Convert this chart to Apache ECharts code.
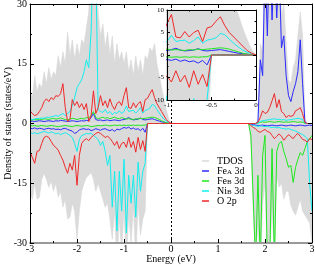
<!DOCTYPE html>
<html><head><meta charset="utf-8">
<script src="https://cdn.jsdelivr.net/npm/echarts@6/dist/echarts.min.js"></script>
<style>html,body{margin:0;padding:0;background:#fff}#c{width:315px;height:266px}</style>
</head><body><div id="c"></div>
<script>
// Energy grid (eV): valence band then conduction band
const ENERGY = [
-3.00,-2.95,-2.90,-2.85,-2.80,-2.75,-2.70,-2.65,-2.60,-2.55,
-2.50,-2.45,-2.40,-2.35,-2.30,-2.25,-2.20,-2.15,-2.10,-2.05,
-2.00,-1.95,-1.90,-1.85,-1.80,-1.75,-1.70,-1.65,-1.60,-1.55,
-1.50,-1.45,-1.40,-1.35,-1.30,-1.25,-1.20,-1.15,-1.10,-1.05,
-1.00,-0.95,-0.90,-0.85,-0.80,-0.75,-0.70,-0.65,-0.60,-0.55,
-0.50,-0.45,-0.40,-0.35,-0.30,-0.25,-0.20,-0.15,-0.10,-0.05,
0.00,
1.60,1.65,1.70,1.75,1.80,1.85,1.90,1.95,2.00,2.05,
2.10,2.15,2.20,2.25,2.30,2.35,2.40,2.45,2.50,2.55,
2.60,2.65,2.70,2.75,2.80,2.85,2.90,2.95,3.00];

const TDOS_UP = [
8,6.5,12,8,10,9,13,10,14,11,
13,12,17,14,18,15,23,17,21,16,
20,17,21,20,24,28,45,45,42,28,
22,25,19,23,17,22,15,20,16,18,
15,18,13,16,12,17,13,16,12,17,
16,19,18,20,15,12,9,6,3.5,1.2,
0,
0,0,0,0,0,1,20,18,45,30,
45,36,45,34,45,27,30,20,11,10,
14,16,22,28,22,1,0,0,0];
const TDOS_DN = [
-17.5,-19,-15,-19,-18.5,-14,-12.5,-14,-16,-14.5,
-17,-15,-18.5,-17,-21,-19,-24,-23.5,-20,-22,
-29,-22,-17,-15,-13.5,-13,-12.3,-14,-17,-15,
-17,-19,-21,-20,-24,-29,-22,-35,-24,-32,
-22,-35,-23,-30,-21,-34,-20,-28,-24,-22,
0,0,0,0,0,0,0,0,0,0,
0,
0,0,-5,-22,-35,-25,-35,-20,-15,-35,
-35,-20,-35,-13,-16,-15,-19,-17,-17,-20.5,
-22,-23,-21,-19,-22,-23,-24,-25,-30];

const FEA_UP = [
0.5,0.6,0.5,0.6,0.7,0.6,0.5,0.6,0.7,0.6,
0.5,0.7,0.6,0.8,0.7,0.6,0.5,0.6,0.7,0.6,
0.5,0.6,0.7,0.6,0.8,0.7,1.5,2.5,1.0,0.8,
0.9,0.7,0.8,0.9,0.7,0.8,0.9,0.8,0.7,0.9,
1.0,1.2,1.5,1.1,0.9,1.0,1.1,1.4,1.0,0.9,
1.0,1.1,1.2,1.0,0.8,0.6,0.4,0.3,0.15,0.05,
0,
0,0,0,0,0,0.3,16,12,40,22,
45,26,40,26.5,40,19,22,12,7,5.5,
8,10,13,21,10,0.3,0,0,0];
const FEA_DN = [
-1.2,-1.3,-1.1,-1.4,-1.2,-1.3,-1.5,-1.3,-1.2,-1.4,
-1.3,-1.5,-1.4,-1.6,-1.3,-1.2,-1.5,-1.7,-1.9,-2.5,
-2.2,-1.6,-1.4,-1.3,-1.5,-1.4,-1.8,-1.6,-1.3,-1.5,
-1.7,-1.4,-1.3,-1.6,-1.8,-1.5,-2.0,-1.4,-1.6,-1.3,
-1.0,-1.2,-0.9,-1.4,-1.1,-1.5,-1.3,-1.8,-1.2,-2.2,
0,0,0,0,0,0,0,0,0,0,
0,
0,0,-0.2,-0.3,-0.4,-0.5,-0.5,-0.4,-0.5,-0.6,
-0.5,-0.4,-0.5,-0.6,-0.5,-0.4,-0.5,-0.6,-0.5,-0.4,
-0.5,-0.6,-0.5,-0.4,-0.5,-0.6,-0.5,-0.4,-0.5];

const FEB_UP = [
0.8,0.9,1.0,0.9,1.1,1.0,1.2,1.1,1.0,1.2,
1.3,1.1,1.2,1.4,1.2,1.0,0.9,1.1,1.3,1.2,
1.0,1.2,1.3,1.1,1.5,1.4,2.0,3.0,1.5,1.2,
1.4,1.6,1.3,1.5,1.2,1.4,1.6,1.3,1.2,1.5,
1.3,1.1,1.2,1.1,1.0,1.2,1.1,1.3,1.2,1.3,
1.4,1.5,1.6,1.5,1.3,1.0,0.7,0.4,0.2,0.1,
0,
0,0,0,0,0,0.1,0.3,0.4,0.3,0.4,
0.5,0.4,0.3,0.4,0.5,0.4,0.3,0.4,0.3,0.4,
0.5,0.4,0.3,0.4,0.3,0,0,0,0];
const FEB_DN = [
-0.5,-0.6,-0.5,-0.7,-0.6,-0.5,-0.6,-0.7,-0.6,-0.5,
-0.6,-0.7,-0.8,-0.7,-0.6,-0.5,-0.6,-0.7,-0.8,-0.6,
-0.5,-0.6,-0.7,-0.6,-0.5,-0.6,-0.8,-0.7,-0.6,-0.5,
-0.6,-0.5,-0.4,-0.5,-0.6,-0.5,-0.4,-0.5,-0.4,-0.5,
-0.4,-0.5,-0.4,-0.5,-0.4,-0.5,-0.4,-0.5,-0.4,-0.4,
0,0,0,0,0,0,0,0,0,0,
0,
0,0,-3,-19,-35,-13,-35,-8,-3,-35,
-35,-6.3,-35,-7,-5,-4.5,-7,-8.8,-11,-10.5,
-14.8,-11,-9,-7.3,-8,-6.3,-4.5,-3.8,-3];

const NIB_UP = [
1.2,1.0,1.1,1.3,1.2,1.4,1.3,1.6,1.5,1.7,
1.8,2.0,1.8,2.2,2.5,2.0,2.5,3.0,4.5,6.5,
9,10,11,13,16,14,23,45,40,3.5,
3,2.8,3.5,2.5,3,2.2,2.8,2.5,3.2,2.5,
3,4.4,3,3.2,3.3,2.6,3.2,4,2.6,3.3,
3.5,3.8,4.8,4.5,3.5,2.6,1.8,1.1,0.6,0.3,
0,
0,0,0,0,0,0,0.5,0.7,0.8,0.9,
1.0,1.1,1.2,1.0,1.1,0.9,1.0,0.8,0.9,1.0,
1.1,1.2,1.3,1.2,1.0,0,0,0,0];
const NIB_DN = [
-2.2,-2.5,-2.3,-2.6,-2.4,-2.2,-2.0,-2.2,-2.4,-2.1,
-2.3,-2.6,-2.4,-2.8,-2.5,-2.3,-2.6,-3.0,-3.5,-5,
-7,-4,-3,-2.8,-2.5,-2.6,-2.4,-3,-3.5,-4,
-5.5,-4.5,-7,-10.5,-8,-21,-12,-27,-12,-22,
-9,-27.5,-13,-20,-13,-23.5,-9.7,-17,-12,-10,
0,0,0,0,0,0,0,0,0,0,
0,
0,0,-0.3,-0.5,-0.6,-0.7,-0.6,-0.7,-0.8,-0.7,
-0.9,-1.0,-0.9,-1.1,-1.0,-1.2,-1.3,-1.4,-1.3,-1.5,
-1.7,-1.9,-2.2,-2.5,-2.8,-3.2,-3.8,-15,-22];

const O2P_UP = [
3.2,2.5,2,2.2,3,4,5.5,6.2,5.5,6.5,
6,7,6.8,7.5,10,4,0.5,1,6,4.5,
5.5,4,5,3.5,5,0.5,2,8.2,2.5,4,
7,4.5,5.7,4,6.2,4.5,3.5,5,5.5,4.5,
7,9,4,3.8,5.2,4,5,5.5,3,6,
6.3,7.5,8.5,6.5,5,4,3,2,1,0.4,
0,
0,0,0,0,0,0.3,1.5,3.2,2.5,2.8,
4,5.7,7.5,4,6,3,2.5,1.5,2,1.8,
2,3.2,3.5,4,2.5,0.2,0,0,0];
const O2P_DN = [
-7.2,-8.5,-10,-7,-6.8,-5,-3.5,-3.2,-3.5,-4.5,
-5.5,-6,-6.7,-8,-9.2,-11,-12.5,-10,-11.7,-8,
-15.5,-8,-5,-4.2,-3.8,-4.3,-3.5,-3,-2.5,-2.2,
-2.5,-3,-3.5,-3.2,-3.7,-4.5,-5.5,-4.5,-6.3,-5,
-4.7,-6,-3.5,-6,-4.5,-7.2,-3.5,-6.5,-4.3,-7,
0,0,0,0,0,0,0,0,0,0,
0,
0,0,-0.5,-1,-1.3,-2,-2.2,-1.8,-1.5,-2,
-2.2,-3,-3.8,-3.2,-2.6,-3.2,-4.2,-3.5,-2.8,-3.3,
-3.8,-3.0,-2.5,-3.2,-4.0,-4.2,-4.7,-3.8,-4];

const SERIES_NAMES = ['TDOS','Fe_A 3d','Fe_B 3d','Ni_B 3d','O 2p'];
const SERIES_COLORS = ['#d9d9d9','#2a2aff','#1ee81e','#12eeee','#f02828'];
const SERIES_UP = [TDOS_UP, FEA_UP, FEB_UP, NIB_UP, O2P_UP];
const SERIES_DN = [TDOS_DN, FEA_DN, FEB_DN, NIB_DN, O2P_DN];

const FONT = 'Liberation Serif';
function pts(v){ return ENERGY.map((e,i)=>[e, v[i]]); }

const series = [];
[0,1].forEach(function(g){
  SERIES_NAMES.forEach(function(name, k){
    [SERIES_UP[k], SERIES_DN[k]].forEach(function(vals, s){
      const o = {
        type:'line', name:name, data:pts(vals),
        xAxisIndex: g*2, yAxisIndex: g*2,
        showSymbol:false, symbol:'none', clip:true, animation:false,
        lineStyle:{width:1, color:SERIES_COLORS[k]},
        itemStyle:{color:SERIES_COLORS[k]},
        z: g ? 11 : 2
      };
      if (k === 0) { o.areaStyle = {color:'#dadada', opacity:1}; o.lineStyle.width = 0.6; }
      if (g === 0 && k === 0 && s === 0) {
        o.markLine = {symbol:['none','none'], silent:true, animation:false,
          label:{show:false}, lineStyle:{type:[2,2], color:'#000', width:1},
          data:[{xAxis:0}]};
      }
      series.push(o);
    });
  });
});

function xAx(grid, pos, min, max, itv, showLabel, fs, extra){
  return Object.assign({
    type:'value', gridIndex:grid, position:pos, min:min, max:max, interval:itv,
    axisLine:{show:true, onZero:false, lineStyle:{color:'#000', width:1}},
    axisTick:{show:true, inside:true, length: grid ? 3 : 4, lineStyle:{color:'#000'}},
    minorTick:{show:true, splitNumber:2, length: grid ? 1.5 : 2, lineStyle:{color:'#000'}},
    splitLine:{show:false},
    axisLabel:{show:showLabel, fontFamily:FONT, fontSize:fs, color:'#000', margin: 2},
    nameMoveOverlap:false,
    z: grid ? 12 : 3
  }, extra || {});
}

const option = {
  animation:false,
  backgroundColor:'#fff',
  grid:[
    {left:30, top:4, width:282, height:239, outerBoundsMode:'none', containLabel:false},
    {left:167, top:10, width:89, height:90, outerBoundsMode:'none', containLabel:false,
     show:true, backgroundColor:'#fff', borderWidth:0, z:10}
  ],
  xAxis:[
    xAx(0,'bottom',-3,3,1,true,10,{
      axisLine:{show:true,onZero:false,lineStyle:{color:'#999',width:2}},
      axisLabel:{fontFamily:FONT, fontSize:10, color:'#000', margin:1},
      name:'Energy (eV)', nameLocation:'middle', nameGap:11,
      nameTextStyle:{fontFamily:FONT, fontSize:10, color:'#000'}}),
    xAx(0,'top',-3,3,1,false,10),
    xAx(1,'bottom',-1,0,0.5,true,7),
    xAx(1,'top',-1,0,0.5,false,7)
  ],
  yAxis:[
    xAx(0,'left',-30,30,15,true,10,{
      axisLabel:{fontFamily:FONT, fontSize:10, color:'#000', margin:3},
      name:'Density of states (states/eV)', nameLocation:'middle', nameGap:17,
      nameTextStyle:{fontFamily:FONT, fontSize:10, color:'#000'}}),
    xAx(0,'right',-30,30,15,false,10),
    xAx(1,'left',-10,10,5,true,7,{axisLabel:{fontFamily:FONT, fontSize:7, color:'#000', margin:3}}),
    xAx(1,'right',-10,10,5,false,7)
  ],
  legend:{
    data:SERIES_NAMES, orient:'vertical', left:197, top:151,
    icon:'rect', itemWidth:7, itemHeight:1.5, itemGap:0,
    selectedMode:false,
    formatter:function(n){ return n.replace(/_(\w)/, '{s|$1}'); },
    textStyle:{fontFamily:FONT, fontSize:10, color:'#000', lineHeight:10, padding:[0,0,0,3],
      rich:{s:{fontFamily:FONT, fontSize:7, color:'#000', verticalAlign:'bottom', lineHeight:3}}}
  },
  series:series
};
const chart = echarts.init(document.getElementById('c'));
chart.setOption(option);
</script></body></html>
